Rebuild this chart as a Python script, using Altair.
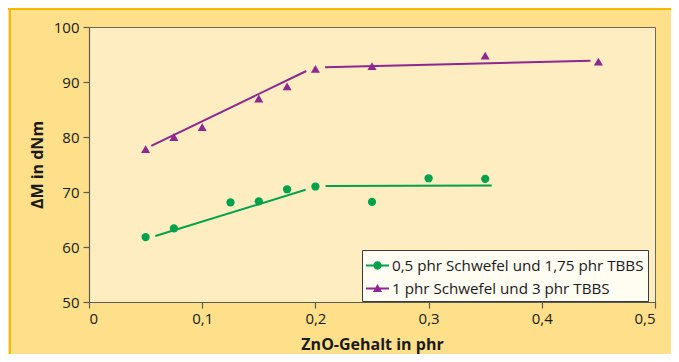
import altair as alt
import pandas as pd

# ---- data ----
series = ["0,5 phr Schwefel und 1,75 phr TBBS", "1 phr Schwefel und 3 phr TBBS"]
series_colors = ["#00A14B", "#8C2890"]

circle_x = [0.05, 0.075, 0.125, 0.15, 0.175, 0.2, 0.25, 0.3, 0.35]
circle_y = [61.8, 63.4, 68.1, 68.3, 70.5, 71.0, 68.2, 72.5, 72.4]

tri_x = [0.05, 0.075, 0.1, 0.15, 0.175, 0.2, 0.25, 0.35, 0.45]
tri_y = [77.8, 80.0, 81.8, 87.0, 89.2, 92.4, 92.9, 94.8, 93.7]

# trend-line segments (two per series)
fit_series = [0, 0, 1, 1]
fit_x1 = [0.0586, 0.209, 0.055, 0.2085]
fit_y1 = [62.0, 71.1, 78.4, 92.7]
fit_x2 = [0.1914, 0.3557, 0.192, 0.443]
fit_y2 = [70.4, 71.2, 92.0, 93.85]

x_ticks = [0, 0.1, 0.2, 0.3, 0.4, 0.5]
y_ticks = [50, 60, 70, 80, 90, 100]

x_title = "ZnO-Gehalt in phr"
y_title = "ΔM in dNm"

# legend symbols: short line with marker on it
legend_paths = [
    "M-1,-0.085L1,-0.085L1,0.085L-1,0.085Z M-0.36,0 A0.36,0.36 0 1,1 0.36,0 A0.36,0.36 0 1,1 -0.36,0 Z",
    "M-1,-0.085L1,-0.085L1,0.085L-1,0.085Z M0,-0.4L0.4,0.3L-0.4,0.3Z",
]

FONT = "Open Sans"

df_c = pd.DataFrame({"x": circle_x, "y": circle_y, "s": series[0]})
df_t = pd.DataFrame({"x": tri_x, "y": tri_y, "s": series[1]})
df_pts = pd.concat([df_c, df_t], ignore_index=True)
df_fit = pd.DataFrame({
    "c": [series_colors[i] for i in fit_series],
    "x1": fit_x1, "y1": fit_y1, "x2": fit_x2, "y2": fit_y2,
})

xscale = alt.Scale(domain=[0, 0.5], nice=False, zero=False)
yscale = alt.Scale(domain=[50, 100], nice=False, zero=False)

x_axis = alt.Axis(
    values=x_ticks,
    title=x_title,
    grid=False,
    tickSize=6,
    labelPadding=3,
    titlePadding=10,
    labelExpr="datum.value == 0 ? '0' : replace(format(datum.value, '.1f'), '.', ',')",
)
y_axis = alt.Axis(
    values=y_ticks,
    title=y_title,
    grid=False,
    tickSize=6,
    labelPadding=4,
    titlePadding=8,
)

color_scale = alt.Scale(domain=series, range=series_colors)

circles = alt.Chart(df_c).mark_point(shape="circle", filled=True, size=68, opacity=1, color=series_colors[0]).encode(
    x=alt.X("x:Q", scale=xscale, axis=x_axis),
    y=alt.Y("y:Q", scale=yscale, axis=y_axis),
)
triangles = alt.Chart(df_t).mark_point(shape="triangle-up", filled=True, size=82, opacity=1, color=series_colors[1]).encode(
    x=alt.X("x:Q", scale=xscale),
    y=alt.Y("y:Q", scale=yscale),
)
fits = alt.Chart(df_fit).mark_rule(strokeWidth=2).encode(
    x=alt.X("x1:Q", scale=xscale),
    y=alt.Y("y1:Q", scale=yscale),
    x2="x2:Q",
    y2="y2:Q",
    color=alt.Color("c:N", scale=None),
)

legend = alt.Legend(
    title=None,
    orient="none",
    legendX=273,
    legendY=223,
    fillColor="#FFFCF2",
    strokeColor="#3a3a3a",
    padding=4,
    rowPadding=3,
    symbolSize=529,
    symbolStrokeWidth=0,
    symbolOpacity=1,
    labelFont=FONT,
    labelFontSize=15.2,
    labelColor="#1a1a1a",
    labelOffset=3,
    labelLimit=400,
)
# carrier layer for the legend: its own marks are pushed outside the clipped plot
legend_layer = alt.Chart(df_pts).mark_point(filled=True, size=529, opacity=1, clip=True, yOffset=2000).encode(
    x=alt.X("x:Q", scale=xscale),
    y=alt.Y("y:Q", scale=yscale),
    color=alt.Color("s:N", scale=color_scale, legend=legend),
    shape=alt.Shape("s:N", scale=alt.Scale(domain=series, range=legend_paths), legend=legend),
)

# decorative orange frame edges of the panel (top and left)
frame_top = alt.Chart(df_pts).mark_rule(color="#F6B900", strokeWidth=2).encode(
    x=alt.value(-81), x2=alt.value(600), y=alt.value(-18), y2=alt.value(-18)
)
frame_left = alt.Chart(df_pts).mark_rule(color="#F6B900", strokeWidth=2).encode(
    x=alt.value(-79), x2=alt.value(-79), y=alt.value(-19), y2=alt.value(340)
)

chart = (
    alt.layer(frame_top, frame_left, fits, circles, triangles, legend_layer)
    .properties(
        width=566,
        height=275,
        autosize=alt.AutoSizeParams(type="none"),
        padding={"left": 81, "top": 19, "right": 16, "bottom": 52},
        background="#FFE08A",
    )
    .configure_view(fill="#FDEDC1", stroke="#6b6759", strokeWidth=1)
    .configure_axis(
        domainColor="#5e5c52",
        tickColor="#5e5c52",
        domainWidth=1.2,
        tickWidth=1.2,
        labelFont=FONT,
        labelFontSize=15,
        labelColor="#1a1a1a",
        titleFont=FONT,
        titleFontSize=16,
        titleFontWeight="bold",
        titleColor="#1a1a1a",
    )
)

chart.save("out.html", embed_options={"renderer": "svg", "actions": False})
